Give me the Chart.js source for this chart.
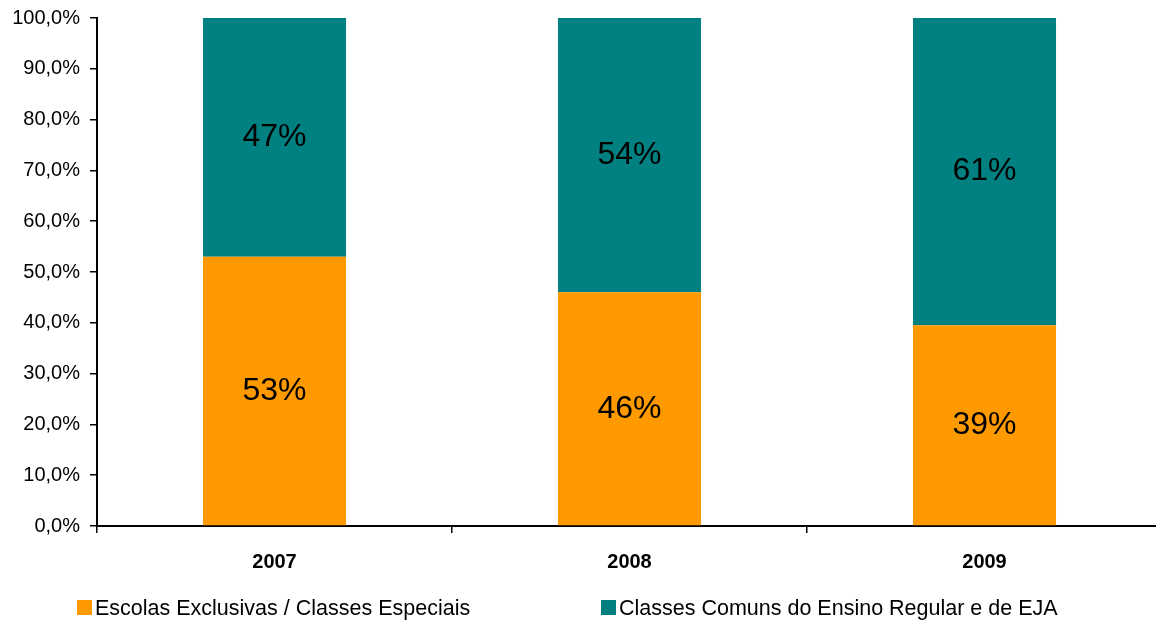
<!DOCTYPE html>
<html>
<head>
<meta charset="utf-8">
<script src="https://cdn.jsdelivr.net/npm/chart.js@4"></script>
<style>
    body { margin: 0; background: #fff; overflow: hidden; }
    #wrap { width: 1166px; height: 624px; margin-top: -4px; position: relative; }
</style>
</head>
<body>
<div id="wrap"><canvas id="myChart"></canvas></div>
<script>
const years = ['2007', '2008', '2009'];
const exclusivas = [53, 46, 39.5];
const comuns = [47, 54, 60.5];
const labelsExclusivas = ['53%', '46%', '39%'];
const labelsComuns = ['47%', '54%', '61%'];
const seriesNames = ['Escolas Exclusivas / Classes Especiais', 'Classes Comuns do Ensino Regular e de EJA'];

const FONT = '"Liberation Sans", Arial, sans-serif';

// valores dentro das barras
const barLabels = {
    id: 'barLabels',
    afterDatasetsDraw(chart) {
        const c = chart.ctx;
        c.save();
        c.font = '32px ' + FONT;
        c.fillStyle = '#000';
        c.textAlign = 'center';
        c.textBaseline = 'middle';
        chart.data.datasets.forEach(function (ds, i) {
            chart.getDatasetMeta(i).data.forEach(function (bar, j) {
                const mid = (bar.y + bar.base) / 2;
                c.fillText(ds.valueLabels[j], bar.x, mid);
            });
        });
        c.restore();
    }
};

// legenda desenhada à mão para ficar nas mesmas posições
const bottomLegend = {
    id: 'bottomLegend',
    afterDraw(chart) {
        const c = chart.ctx;
        const xs = [77, 601];
        c.save();
        c.font = '21.5px ' + FONT;
        c.textBaseline = 'middle';
        chart.data.datasets.forEach(function (ds, i) {
            c.fillStyle = ds.backgroundColor;
            c.fillRect(xs[i], 604, 15, 15);
            c.fillStyle = '#000';
            c.fillText(ds.label, xs[i] + 18, 613);
        });
        c.restore();
    }
};

const ctx = document.getElementById('myChart');
new Chart(ctx, {
    type: 'bar',
    plugins: [barLabels, bottomLegend],
    data: {
        labels: years,
        datasets: [
            {label: seriesNames[0], data: exclusivas, valueLabels: labelsExclusivas, backgroundColor: '#FF9900'},
            {label: seriesNames[1], data: comuns, valueLabels: labelsComuns, backgroundColor: '#008080'}
        ]
    },
    options: {
        responsive: true,
        maintainAspectRatio: false,
        animation: false,
        layout: {padding: {top: 4, right: 4, left: 0, bottom: 0}},
        plugins: {legend: {display: false}, tooltip: {enabled: false}},
        datasets: {bar: {categoryPercentage: 1, barPercentage: 0.403}},
        scales: {
            x: {
                stacked: true,
                afterFit: function (s) { s.height = 94; },
                border: {color: '#000', width: 2},
                grid: {offset: true, drawOnChartArea: false, tickLength: 7, color: '#000', lineWidth: 1.5},
                ticks: {color: '#000', padding: 17, font: {family: FONT, size: 20, weight: 'bold'}}
            },
            y: {
                stacked: true,
                min: 0,
                max: 100,
                afterFit: function (s) { s.width = 97; },
                border: {color: '#000', width: 2},
                grid: {drawOnChartArea: false, tickLength: 7, color: '#000', lineWidth: 1.5},
                ticks: {
                    stepSize: 10, color: '#000', padding: 10,
                    font: {family: FONT, size: 20},
                    callback: function (v) { return v.toFixed(1).replace('.', ',') + '%'; }
                }
            }
        }
    }
});
</script>
</body>
</html>
